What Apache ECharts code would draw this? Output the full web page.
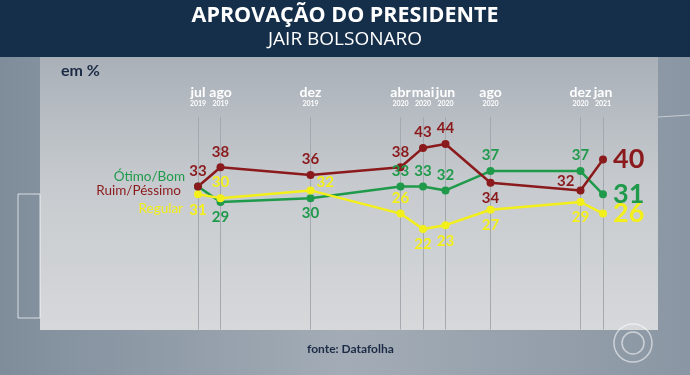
<!DOCTYPE html>
<html lang="pt">
<head>
<meta charset="UTF-8">
<title>Aprovação do presidente</title>
<script src="https://cdn.jsdelivr.net/npm/echarts@6/dist/echarts.min.js"></script>
<style>
  body { margin: 0; }
  #main { width: 690px; height: 375px; }
</style>
</head>
<body>
<div id="main"></div>
<script>
// meses desde jul/2019
var monthIndex = [0, 1, 5, 9, 10, 11, 13, 17, 18];
var monthNames = ['jul', 'ago', 'dez', 'abr', 'mai', 'jun', 'ago', 'dez', 'jan'];
var yearNames = ['2019', '2019', '2019', '2020', '2020', '2020', '2020', '2020', '2021'];

var otimoBom = [33, 29, 30, 33, 33, 32, 37, 37, 31];
var ruimPessimo = [33, 38, 36, 38, 43, 44, 34, 32, 40];
var regular = [31, 30, 32, 26, 22, 23, 27, 29, 26];

// label placement per point (style only)
var otimoPos = ['none', 'bottom', 'bottom', 'top', 'top', 'top', 'top', 'top', 'right'];
var ruimPos = ['top', 'top', 'top', 'top', 'top', 'top', 'bottom', 'topLeft', 'right'];
var regularPos = ['bottom', 'top', 'topRight', 'top', 'bottom', 'bottom', 'bottom', 'bottom', 'right'];

var font = 'Lato, "Open Sans", sans-serif';

function buildData(values, pos) {
    return values.map(function (v, i) {
        var item = { value: [monthIndex[i], v] };
        if (pos[i] === 'none') {
            item.label = { show: false };
        } else if (pos[i] === 'topLeft') {
            item.label = { position: 'left', offset: [2, -9] };
        } else if (pos[i] === 'topRight') {
            item.label = { position: 'right', offset: [-2, -8] };
        } else {
            item.label = { position: pos[i] };
        }
        if (i === values.length - 1) {
            item.label.fontSize = 27;
            item.label.distance = 6;
        }
        return item;
    });
}

function lineSeries(name, values, pos, color) {
    return {
        name: name,
        type: 'line',
        data: buildData(values, pos),
        symbol: 'circle',
        symbolSize: 8,
        lineStyle: { color: color, width: 2.5 },
        itemStyle: { color: color },
        label: {
            show: true,
            color: color,
            fontFamily: font,
            fontWeight: 'bold',
            fontSize: 15,
            distance: 4,
            formatter: function (p) { return p.value[1]; }
        },
        emphasis: { disabled: true },
        animation: false
    };
}

var myChart = echarts.init(document.getElementById('main'));

var vlines = monthIndex.map(function (m) { return { xAxis: m }; });

var option = {
    backgroundColor: new echarts.graphic.LinearGradient(0, 0, 1, 0, [
        { offset: 0, color: '#7f8d9b' },
        { offset: 0.5, color: '#a3acb6' },
        { offset: 1, color: '#8a96a3' }
    ]),
    graphic: [
        { type: 'rect', z: -10, shape: { x: 40, y: 57, width: 618, height: 273 },
          style: { fill: new echarts.graphic.LinearGradient(0, 0, 0, 1, [
              { offset: 0, color: '#a9b0b8' },
              { offset: 0.45, color: '#c6cace' },
              { offset: 1, color: '#d6d8da' }
          ]) } },
        { type: 'rect', z: -10, shape: { x: 0, y: 0, width: 690, height: 57 },
          style: { fill: '#152f4b' } },
        { type: 'rect', z: -10, shape: { x: 18, y: 194, width: 22, height: 124 },
          style: { fill: 'none', stroke: 'rgba(255,255,255,0.7)', lineWidth: 1 } },
        { type: 'line', z: -10, shape: { x1: 658, y1: 117, x2: 690, y2: 115 },
          style: { stroke: 'rgba(255,255,255,0.5)', lineWidth: 1 } },
        { type: 'circle', z: -10, shape: { cx: 633, cy: 343, r: 19 },
          style: { fill: 'none', stroke: 'rgba(255,255,255,0.55)', lineWidth: 1.5 } },
        { type: 'circle', z: -10, shape: { cx: 633, cy: 343, r: 11 },
          style: { fill: 'none', stroke: 'rgba(255,255,255,0.55)', lineWidth: 1.5 } },
        { type: 'text', left: 'center', top: 5,
          style: { text: 'APROVAÇÃO DO PRESIDENTE', fill: '#ffffff', font: 'bold 21.5px "Open Sans", sans-serif' } },
        { type: 'text', left: 'center', top: 30,
          style: { text: 'JAIR BOLSONARO', fill: '#ffffff', font: '19px "Open Sans", sans-serif' } },
        { type: 'text', left: 61, top: 63,
          style: { text: 'em %', fill: '#1c2b45', font: 'bold 16px ' + font } },
        { type: 'text', left: 307, top: 343,
          style: { text: 'fonte: Datafolha', fill: '#1c2b45', font: 'bold 12px ' + font } },
        { type: 'text', right: 505, top: 170,
          style: { text: 'Ótimo/Bom', fill: '#1f9a4b', font: '13.5px ' + font, textAlign: 'right' } },
        { type: 'text', right: 509, top: 184,
          style: { text: 'Ruim/Péssimo', fill: '#8b1a1c', font: '13.5px ' + font, textAlign: 'right' } },
        { type: 'text', right: 507, top: 202,
          style: { text: 'Regular', fill: '#f1ee1c', font: '13.5px ' + font, textAlign: 'right' } }
    ],
    grid: { left: 198, right: 87, top: 117, height: 212.5 },
    xAxis: {
        type: 'value',
        position: 'top',
        min: 0,
        max: 18,
        interval: 1,
        axisLine: { show: false },
        axisTick: { show: false },
        splitLine: { show: false },
        axisLabel: {
            margin: 9,
            formatter: function (v) {
                var i = monthIndex.indexOf(v);
                if (i < 0) return '';
                return '{m|' + monthNames[i] + '}\n{y|' + yearNames[i] + '}';
            },
            rich: {
                m: { color: '#ffffff', fontFamily: font, fontWeight: 'bold', fontSize: 14, lineHeight: 13 },
                y: { color: '#ffffff', fontFamily: font, fontWeight: 'bold', fontSize: 7, lineHeight: 9 }
            }
        }
    },
    yAxis: {
        type: 'value',
        min: -4,
        max: 51,
        show: false
    },
    series: [
        Object.assign(lineSeries('Ótimo/Bom', otimoBom, otimoPos, '#1f9a4b'), {
            markLine: {
                silent: true,
                symbol: 'none',
                label: { show: false },
                lineStyle: { color: '#a4a9b0', width: 1, type: 'solid' },
                data: vlines,
                z: 1
            }
        }),
        lineSeries('Regular', regular, regularPos, '#f3ef1a'),
        lineSeries('Ruim/Péssimo', ruimPessimo, ruimPos, '#8b1a1c')
    ]
};

myChart.setOption(option);
</script>
</body>
</html>
